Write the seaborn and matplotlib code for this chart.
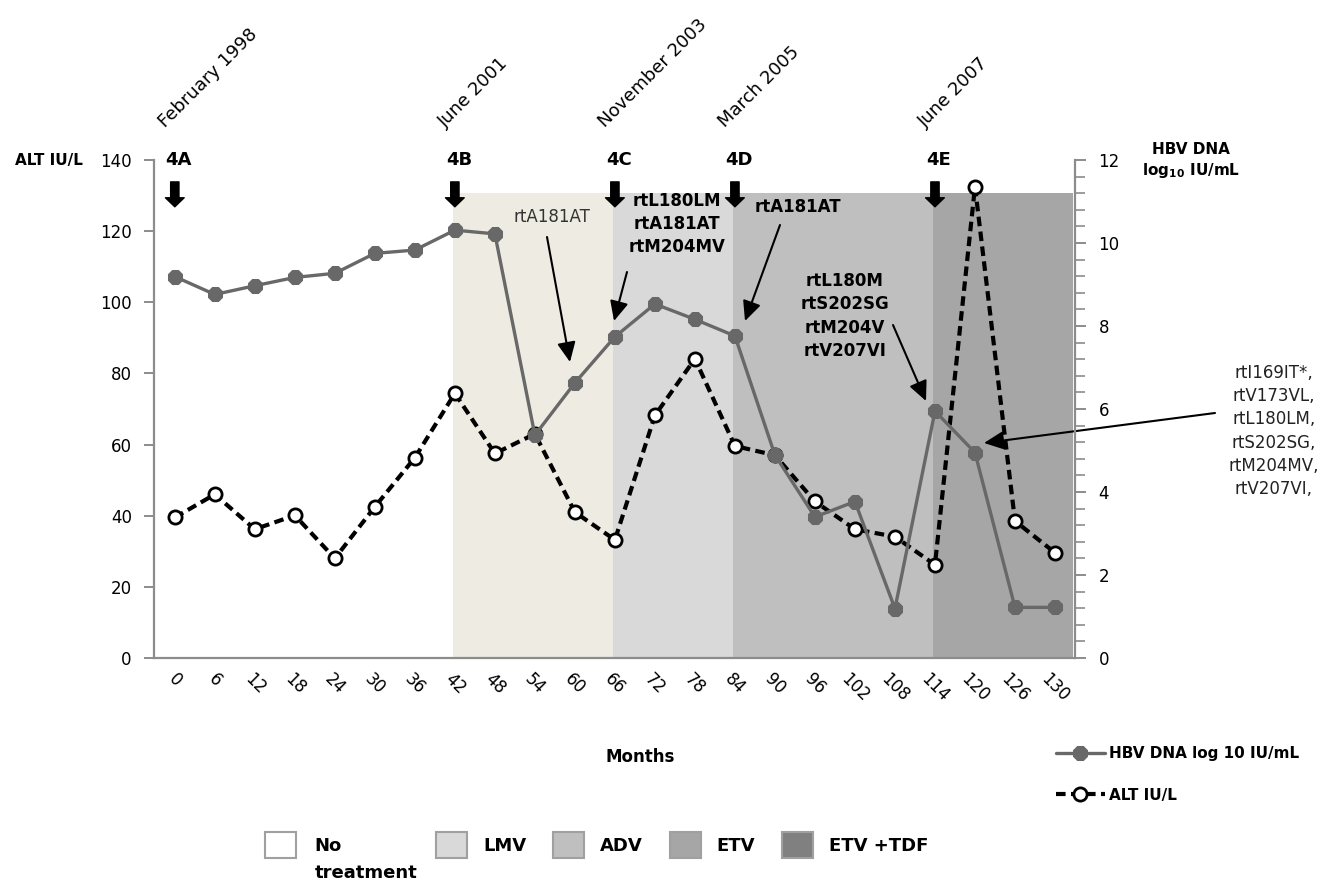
import numpy as np
import pandas as pd
import matplotlib
matplotlib.use("Agg")
import matplotlib.pyplot as plt
from matplotlib.patches import Patch
from matplotlib.ticker import MultipleLocator
import seaborn as sns

# ---------------- data ----------------
months = ['0', '6', '12', '18', '24', '30', '36', '42', '48', '54', '60', '66',
          '72', '78', '84', '90', '96', '102', '108', '114', '120', '126', '130']
alt_iu = [39.5, 46.0, 36.2, 40.1, 28.0, 42.5, 56.3, 74.4, 57.5, 63.0, 41.0, 33.2,
          68.2, 84.1, 59.6, 57.0, 44.0, 36.2, 34.1, 26.2, 132.5, 38.5, 29.6]
hbv_log = [9.19, 8.76, 8.97, 9.17, 9.27, 9.75, 9.83, 10.31, 10.22, 5.37, 6.63, 7.74,
           8.53, 8.16, 7.76, 4.89, 3.40, 3.77, 1.19, 5.95, 4.95, 1.22, 1.22]

event_labels = ['4A', '4B', '4C', '4D', '4E']
event_months = ['0', '42', '66', '84', '114']
event_dates = ['February 1998', 'June 2001', 'November 2003', 'March 2005', 'June 2007']

period_starts = ['42', '66', '84', '114']
period_colors = ['#EDEBE2', '#D9D9D9', '#BFBFBF', '#A6A6A6']

legend_names = ['No', 'LMV', 'ADV', 'ETV', 'ETV +TDF']
legend_colors = ['#FFFFFF', '#D9D9D9', '#BFBFBF', '#A6A6A6', '#808080']

df = pd.DataFrame({'month': months, 'idx': np.arange(len(months)),
                   'ALT': alt_iu, 'HBV': hbv_log})

# ---------------- figure ----------------
sns.set_style("white")
plt.rcParams['font.family'] = ['DejaVu Sans']
plt.rcParams['text.color'] = 'black'
plt.rcParams['axes.labelcolor'] = 'black'
plt.rcParams['xtick.color'] = 'black'
plt.rcParams['ytick.color'] = 'black'

W, H = 1334, 883
fig = plt.figure(figsize=(W / 100, H / 100), dpi=100)
L, R, T, B = 154, 1075, 160, 658
ax = fig.add_axes([L / W, 1 - B / H, (R - L) / W, (B - T) / H])
ax.set_xlim(-0.52, 22.45)
ax.set_ylim(0, 140)

gray = '#8C8C8C'

# treatment shading
starts = [months.index(m) - 0.04 for m in period_starts]
ends = starts[1:] + [ax.get_xlim()[1]]
for s, e, c in zip(starts, ends, period_colors):
    ax.axvspan(s, e, ymin=0, ymax=130.8 / 140, color=c, lw=0, zorder=0)

# ALT series (left axis)
sns.lineplot(data=df, x='idx', y='ALT', ax=ax, color='black', lw=3,
             linestyle=(0, (2.3, 1.3)), marker='o', markersize=9.5,
             markerfacecolor='white', markeredgecolor='black', markeredgewidth=2,
             label='ALT IU/L', legend=False, zorder=3)

ax2 = ax.twinx()
ax2.set_ylim(0, 12)
sns.lineplot(data=df, x='idx', y='HBV', ax=ax2, color='#686868', lw=2.4,
             marker='8', markersize=10.5, markeredgecolor='#686868',
             markerfacecolor='#686868', label='HBV DNA log 10 IU/mL',
             legend=False, zorder=4)

# axes styling
for a in (ax, ax2):
    for sp in a.spines.values():
        sp.set_visible(False)
    a.set_xlabel('')
    a.set_ylabel('')
    a.grid(False)
ax.spines['left'].set_visible(True)
ax.spines['bottom'].set_visible(True)
ax2.spines['right'].set_visible(True)
for sp in (ax.spines['left'], ax.spines['bottom'], ax2.spines['right']):
    sp.set_color(gray)
    sp.set_linewidth(1.6)

ax.set_xticks(df['idx'])
ax.set_xticklabels(months, rotation=-45, ha='center', fontsize=12, color='black')
ax.set_xticks(np.arange(-0.5, 23, 1), minor=True)
ax.tick_params(axis='x', which='major', length=0, pad=9, labelcolor='black')
ax.tick_params(axis='x', which='minor', length=7, width=1.4, color=gray, direction='out')
ax.set_yticks(range(0, 141, 20))
ax.tick_params(axis='y', which='major', length=7, width=1.4, color=gray,
               direction='out', labelsize=12, pad=9, left=True, labelcolor='black')
ax2.set_yticks(range(0, 13, 2))
ax2.yaxis.set_minor_locator(MultipleLocator(0.4))
ax2.tick_params(axis='y', which='major', length=8, width=1.4, color=gray,
                direction='out', labelsize=12, pad=9, right=True, labelcolor='black')
ax2.tick_params(axis='y', which='minor', length=7, width=1.2, color=gray,
                direction='out', right=True)

# event markers, thick arrows and dates
trans = ax.get_xaxis_transform()
for lab, m, d in zip(event_labels, event_months, event_dates):
    i = months.index(m)
    ax.text(i + 0.1, 1.0, lab, transform=trans, ha='center', va='center',
            fontsize=13, fontweight='bold', color='black')
    ax.annotate('', xy=(i, 0.906), xytext=(i, 0.956), xycoords=trans, textcoords=trans,
                arrowprops=dict(arrowstyle='simple,head_length=6.5,head_width=13.5,tail_width=6',
                                mutation_scale=1, color='black', shrinkA=0, shrinkB=0))
    ax.text(i - 0.25, 1.064, d, transform=trans, rotation=45, rotation_mode='anchor',
            ha='left', va='baseline', fontsize=13, color='black')

# axis titles
fp = 'figure pixels'
ax.annotate('ALT IU/L', xy=(49, H - 160), xycoords=fp, ha='center', va='center',
            fontsize=11, fontweight='bold', color='black')
ax.annotate('HBV DNA\nlog$_{\\mathbf{10}}$ IU/mL', xy=(1191, H - 161), xycoords=fp,
            ha='center', va='center', fontsize=11, fontweight='bold', linespacing=1.3,
            color='black')
ax.annotate('Months', xy=(640, H - 757), xycoords=fp, ha='center', va='center',
            fontsize=12, fontweight='bold', color='black')

# mutation annotations
def note(text, pos, tail, tip, bold=True, color='black', size=12):
    ax.annotate(text, xy=(pos[0], H - pos[1]), xycoords=fp, ha='center', va='center',
                fontsize=size, fontweight='bold' if bold else 'normal',
                color=color, linespacing=1.38)
    ax.annotate('', xy=(tip[0], H - tip[1]), xytext=(tail[0], H - tail[1]),
                xycoords=fp, textcoords=fp,
                arrowprops=dict(arrowstyle='-|>,head_length=0.6,head_width=0.28',
                                mutation_scale=20, color='black', lw=1.5,
                                shrinkA=0, shrinkB=0))

note('rtA181AT', (552, 217), (547, 237), (570, 362), bold=False, color='#333333')
note('rtL180LM\nrtA181AT\nrtM204MV', (677, 224), (627, 272), (614, 321))
note('rtA181AT', (798, 207), (780, 225), (745, 321))
note('rtL180M\nrtS202SG\nrtM204V\nrtV207VI', (845, 316), (893, 325), (926, 401))
note('rtI169IT*,\nrtV173VL,\nrtL180LM,\nrtS202SG,\nrtM204MV,\nrtV207VI,',
     (1274, 431), (1215, 413), (984, 443), bold=False, color='#222222')

# line legend
handles = [ax2.lines[0], ax.lines[0]]
fig.legend(handles, ['HBV DNA log 10 IU/mL', 'ALT IU/L'], loc='upper left',
           bbox_to_anchor=(1056 / W, 1 - 746 / H), frameon=False, borderpad=0,
           borderaxespad=0, handlelength=3.2, handletextpad=0.25, labelspacing=1.75,
           prop={'weight': 'bold', 'size': 11}, labelcolor='black')

# treatment legend
patch_kw = dict(edgecolor='#A0A0A0', linewidth=1.5)
h0 = [Patch(facecolor=legend_colors[0], **patch_kw)]
fig.legend(h0, legend_names[:1], loc='upper left', bbox_to_anchor=(265 / W, 1 - 832 / H),
           frameon=False, borderpad=0, borderaxespad=0, handlelength=1.7,
           handleheight=1.8, handletextpad=1.05, prop={'weight': 'bold', 'size': 13},
           labelcolor='black')
fig.text(315 / W, 1 - 873 / H, 'treatment', ha='left', va='center',
         fontsize=13, fontweight='bold', color='black')
h1 = [Patch(facecolor=c, **patch_kw) for c in legend_colors[1:]]
fig.legend(h1, legend_names[1:], loc='upper left', ncol=4,
           bbox_to_anchor=(436 / W, 1 - 832 / H), frameon=False, borderpad=0,
           borderaxespad=0, handlelength=1.7, handleheight=1.8, handletextpad=0.9,
           columnspacing=1.5, prop={'weight': 'bold', 'size': 13}, labelcolor='black')

fig.savefig('out.png', dpi=100)
